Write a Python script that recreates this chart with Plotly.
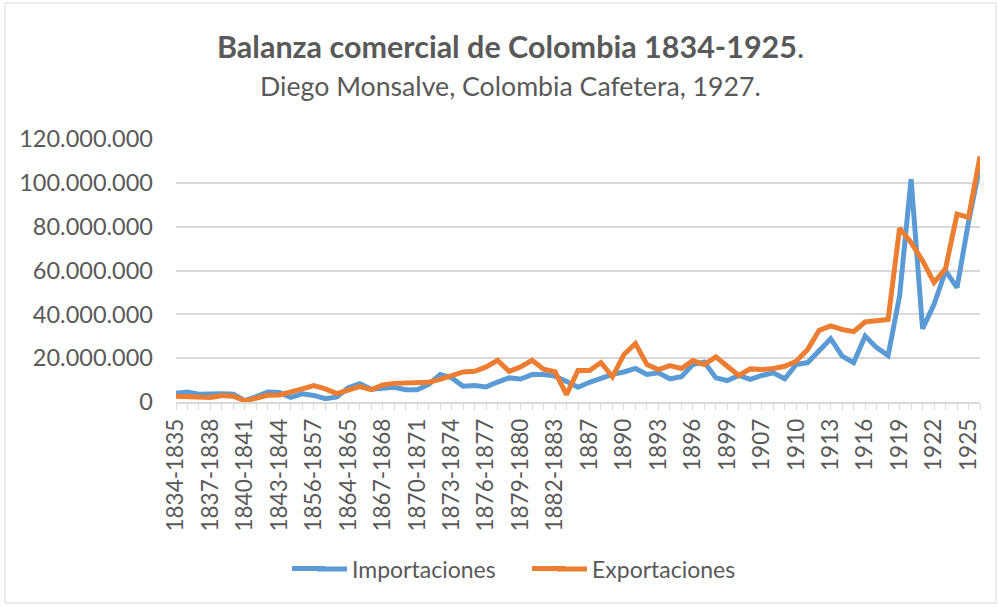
import plotly.graph_objects as go

categories = [
    "1834-1835", "1835-1836", "1836-1837", "1837-1838", "1838-1839", "1839-1840",
    "1840-1841", "1841-1842", "1842-1843", "1843-1844", "1844-1845", "1854-1855",
    "1856-1857", "1857-1858", "1858-1859", "1864-1865", "1865-1866", "1866-1867",
    "1867-1868", "1868-1869", "1869-1870", "1870-1871", "1871-1872", "1872-1873",
    "1873-1874", "1874-1875", "1875-1876", "1876-1877", "1877-1878", "1878-1879",
    "1879-1880", "1880-1881", "1881-1882", "1882-1883", "1883-1884", "1886",
    "1887", "1888", "1889", "1890", "1891", "1892",
    "1893", "1894", "1895", "1896", "1897", "1898",
    "1899", "1905", "1906", "1907", "1908", "1909",
    "1910", "1911", "1912", "1913", "1914", "1915",
    "1916", "1917", "1918", "1919", "1920", "1921",
    "1922", "1923", "1924", "1925", "1926",
]

# millions of pesos
importaciones_m = [
    4.0, 4.5, 3.5, 3.8, 3.8, 3.6,
    0.6, 2.5, 4.6, 4.3, 2.1, 3.7,
    3.0, 1.5, 2.3, 6.5, 8.3, 5.8,
    6.5, 6.7, 5.6, 5.6, 8.0, 12.5,
    11.0, 7.2, 7.5, 6.9, 9.1, 11.0,
    10.5, 12.5, 12.5, 11.8, 9.4, 6.7,
    9.0, 11.0, 12.6, 13.7, 15.3, 12.6,
    13.3, 10.6, 11.5, 17.1, 18.2, 11.0,
    9.8, 12.1, 10.3, 12.1, 13.3, 10.6,
    17.1, 18.0, 23.2, 28.9, 20.9, 17.9,
    30.1, 24.8, 21.2, 48.4, 101.7, 33.4,
    44.6, 59.8, 52.2, 82.0, 108.0,
]

exportaciones_m = [
    2.6, 2.6, 2.4, 2.1, 3.0, 2.6,
    0.5, 1.9, 3.1, 3.2, 4.4, 6.0,
    7.5, 6.0, 3.8, 5.5, 7.0, 5.6,
    7.8, 8.5, 8.6, 8.8, 9.0, 10.3,
    11.8, 13.7, 14.0, 16.0, 19.0, 14.0,
    16.0, 19.0, 15.0, 13.8, 3.4, 14.4,
    14.4, 18.0, 11.5, 21.7, 26.7, 17.1,
    14.8, 16.6, 15.3, 18.9, 17.1, 20.6,
    16.3, 12.1, 15.1, 14.8, 15.3, 16.3,
    18.6, 24.0, 32.7, 34.7, 33.1, 32.1,
    36.5, 36.9, 37.7, 79.3, 72.8, 64.4,
    54.5, 60.9, 85.7, 84.2, 112.0,
]

importaciones = [v * 1_000_000 for v in importaciones_m]
exportaciones = [v * 1_000_000 for v in exportaciones_m]

tick_text = [c if i % 3 == 0 else "" for i, c in enumerate(categories)]
y_ticks = [0, 20_000_000, 40_000_000, 60_000_000, 80_000_000, 100_000_000, 120_000_000]

FONT = "Lato"
GRAY = "#595959"
GRID = "#d9d9d9"
BLUE = "#5B9BD5"
ORANGE = "#ED7D31"

W, H = 999, 607
L, R, T, B = 176, 19, 139, 205
pw, ph = W - L - R, H - T - B


def px_x(x):
    return (x - L) / pw


def px_y(y):
    return (H - B - y) / ph


fig = go.Figure()
fig.add_trace(go.Scatter(
    x=categories, y=importaciones, mode="lines", name="Importaciones",
    line=dict(color=BLUE, width=5),
))
fig.add_trace(go.Scatter(
    x=categories, y=exportaciones, mode="lines", name="Exportaciones",
    line=dict(color=ORANGE, width=5),
))

LEG_Y = 569

fig.update_layout(
    width=W, height=H,
    margin=dict(l=L, r=R, t=T, b=B),
    paper_bgcolor="white", plot_bgcolor="white",
    separators=",.",
    font=dict(family=FONT, color=GRAY, size=23),
    showlegend=True,
    legend=dict(
        orientation="h", x=px_x(312), xanchor="left", y=px_y(LEG_Y), yanchor="middle",
        font=dict(family=FONT, size=23, color=GRAY), entrywidth=195,
        bgcolor="rgba(0,0,0,0)",
    ),
    xaxis=dict(
        type="category", tickmode="array", tickvals=categories, ticktext=tick_text,
        tickangle=-90, ticks="outside", ticklen=6, tickcolor=GRID, tickwidth=1,
        showline=True, linecolor=GRID, linewidth=1.5, showgrid=False,
        range=[0, len(categories) - 1], tickfont=dict(family=FONT, size=22.5, color=GRAY),
        fixedrange=True,
    ),
    yaxis=dict(
        range=[0, 120_000_000], tickmode="array", tickvals=y_ticks,
        tickformat=",d", showgrid=True, gridcolor=GRID, gridwidth=1.5,
        zeroline=False, showline=False, ticks="", ticklabelstandoff=22,
        tickfont=dict(family=FONT, size=23.5, color=GRAY), fixedrange=True,
    ),
    annotations=[
        dict(text="<b>Balanza comercial de Colombia 1834-1925</b>.", xref="paper", yref="paper",
             x=px_x(510), y=px_y(46), xanchor="center", yanchor="middle", showarrow=False,
             font=dict(family=FONT, size=30.5, color=GRAY)),
        dict(text="Diego Monsalve, Colombia Cafetera, 1927.", xref="paper", yref="paper",
             x=px_x(510), y=px_y(86), xanchor="center", yanchor="middle", showarrow=False,
             font=dict(family=FONT, size=26.7, color=GRAY)),
    ],
    shapes=[
        dict(type="rect", xref="paper", yref="paper",
             x0=px_x(5), x1=px_x(996), y0=px_y(603), y1=px_y(3),
             line=dict(color=GRID, width=1), fillcolor="rgba(0,0,0,0)", layer="below"),
        # extend legend line samples to the reference length
        dict(type="line", xref="paper", yref="paper",
             x0=px_x(292), x1=px_x(325), y0=px_y(LEG_Y - 0.5), y1=px_y(LEG_Y - 0.5),
             line=dict(color=BLUE, width=5)),
        dict(type="line", xref="paper", yref="paper",
             x0=px_x(532), x1=px_x(565), y0=px_y(LEG_Y - 0.5), y1=px_y(LEG_Y - 0.5),
             line=dict(color=ORANGE, width=5)),
    ],
)

fig.write_html(
    "out.html",
    config={"displayModeBar": False},
    post_script="document.body.style.margin='0';",
)
